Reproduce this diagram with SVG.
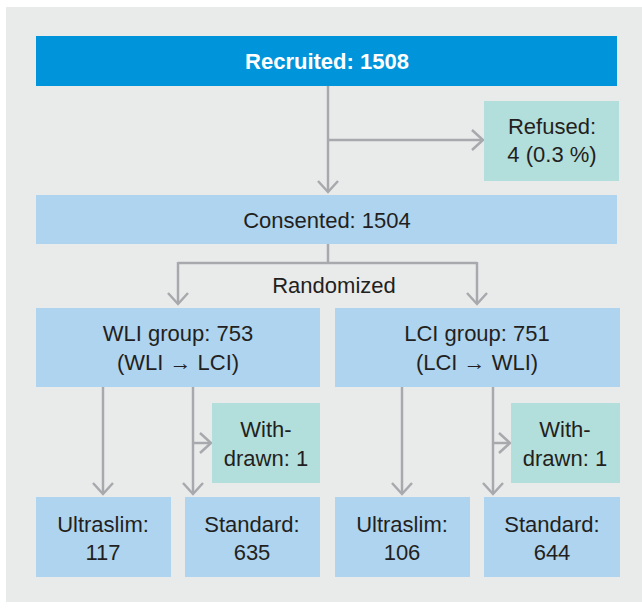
<svg xmlns="http://www.w3.org/2000/svg" width="642" height="609" viewBox="0 0 642 609">
<style>
text{font-family:"Liberation Sans",Arial,sans-serif;font-size:22px;fill:#231f20;text-anchor:middle}
.t{fill:#ffffff;font-weight:bold}
.blue{fill:#aed4ef}
.dark{fill:#0095da}
.teal{fill:#b2dedb}
.c{stroke:#a8a9ad;stroke-width:2.5;fill:none}
</style>
<defs>
<marker id="ah" markerUnits="userSpaceOnUse" viewBox="-13 -12 15 24" refX="0" refY="0" markerWidth="15" markerHeight="24" orient="auto">
<path d="M-11,-10 L0,0 L-11,10" fill="none" stroke="#a8a9ad" stroke-width="2.5"/>
</marker>
</defs>
<rect x="0" y="0" width="642" height="609" fill="#ffffff"/>
<rect x="6" y="7" width="636" height="595" fill="#e9ebeb"/>
<g id="connectors">
<path class="c" d="M328,86 V192" marker-end="url(#ah)"/>
<path class="c" d="M328,140 H483" marker-end="url(#ah)"/>
<path class="c" d="M328,244 V263 M178,263 H477"/>
<path class="c" d="M178,262 V304" marker-end="url(#ah)"/>
<path class="c" d="M477,262 V304" marker-end="url(#ah)"/>
<path class="c" d="M103,387 V494" marker-end="url(#ah)"/>
<path class="c" d="M193,387 V494" marker-end="url(#ah)"/>
<path class="c" d="M193,443 H211" marker-end="url(#ah)"/>
<path class="c" d="M402,387 V494" marker-end="url(#ah)"/>
<path class="c" d="M493,387 V494" marker-end="url(#ah)"/>
<path class="c" d="M493,443 H510" marker-end="url(#ah)"/>
</g>
<g id="recruited"><rect class="dark" x="36" y="36" width="581" height="50"/><text class="t" x="327" y="69">Recruited: 1508</text></g>
<g id="refused"><rect class="teal" x="484" y="101" width="135" height="80"/><text x="552" y="134">Refused:</text><text x="552" y="162">4 (0.3 %)</text></g>
<g id="consented"><rect class="blue" x="36" y="195" width="581" height="49"/><text x="327" y="228">Consented: 1504</text></g>
<g id="randomized-label"><text x="334" y="293">Randomized</text></g>
<g id="wli"><rect class="blue" x="36" y="308" width="284" height="79"/><text x="178" y="341">WLI group: 753</text><text x="178" y="370">(WLI → LCI)</text></g>
<g id="lci"><rect class="blue" x="335" y="308" width="285" height="79"/><text x="477" y="341">LCI group: 751</text><text x="477" y="370">(LCI → WLI)</text></g>
<g id="withdrawn1"><rect class="teal" x="212" y="403" width="108" height="80"/><text x="266" y="437">With-</text><text x="266" y="466">drawn: 1</text></g>
<g id="withdrawn2"><rect class="teal" x="511" y="403" width="109" height="80"/><text x="565" y="437">With-</text><text x="565" y="466">drawn: 1</text></g>
<g id="ultraslim1"><rect class="blue" x="36" y="497" width="135" height="80"/><text x="103" y="532">Ultraslim:</text><text x="103" y="560">117</text></g>
<g id="standard1"><rect class="blue" x="185" y="497" width="135" height="80"/><text x="252" y="532">Standard:</text><text x="252" y="560">635</text></g>
<g id="ultraslim2"><rect class="blue" x="335" y="497" width="135" height="80"/><text x="402" y="532">Ultraslim:</text><text x="402" y="560">106</text></g>
<g id="standard2"><rect class="blue" x="484" y="497" width="136" height="80"/><text x="552" y="532">Standard:</text><text x="552" y="560">644</text></g>
</svg>
